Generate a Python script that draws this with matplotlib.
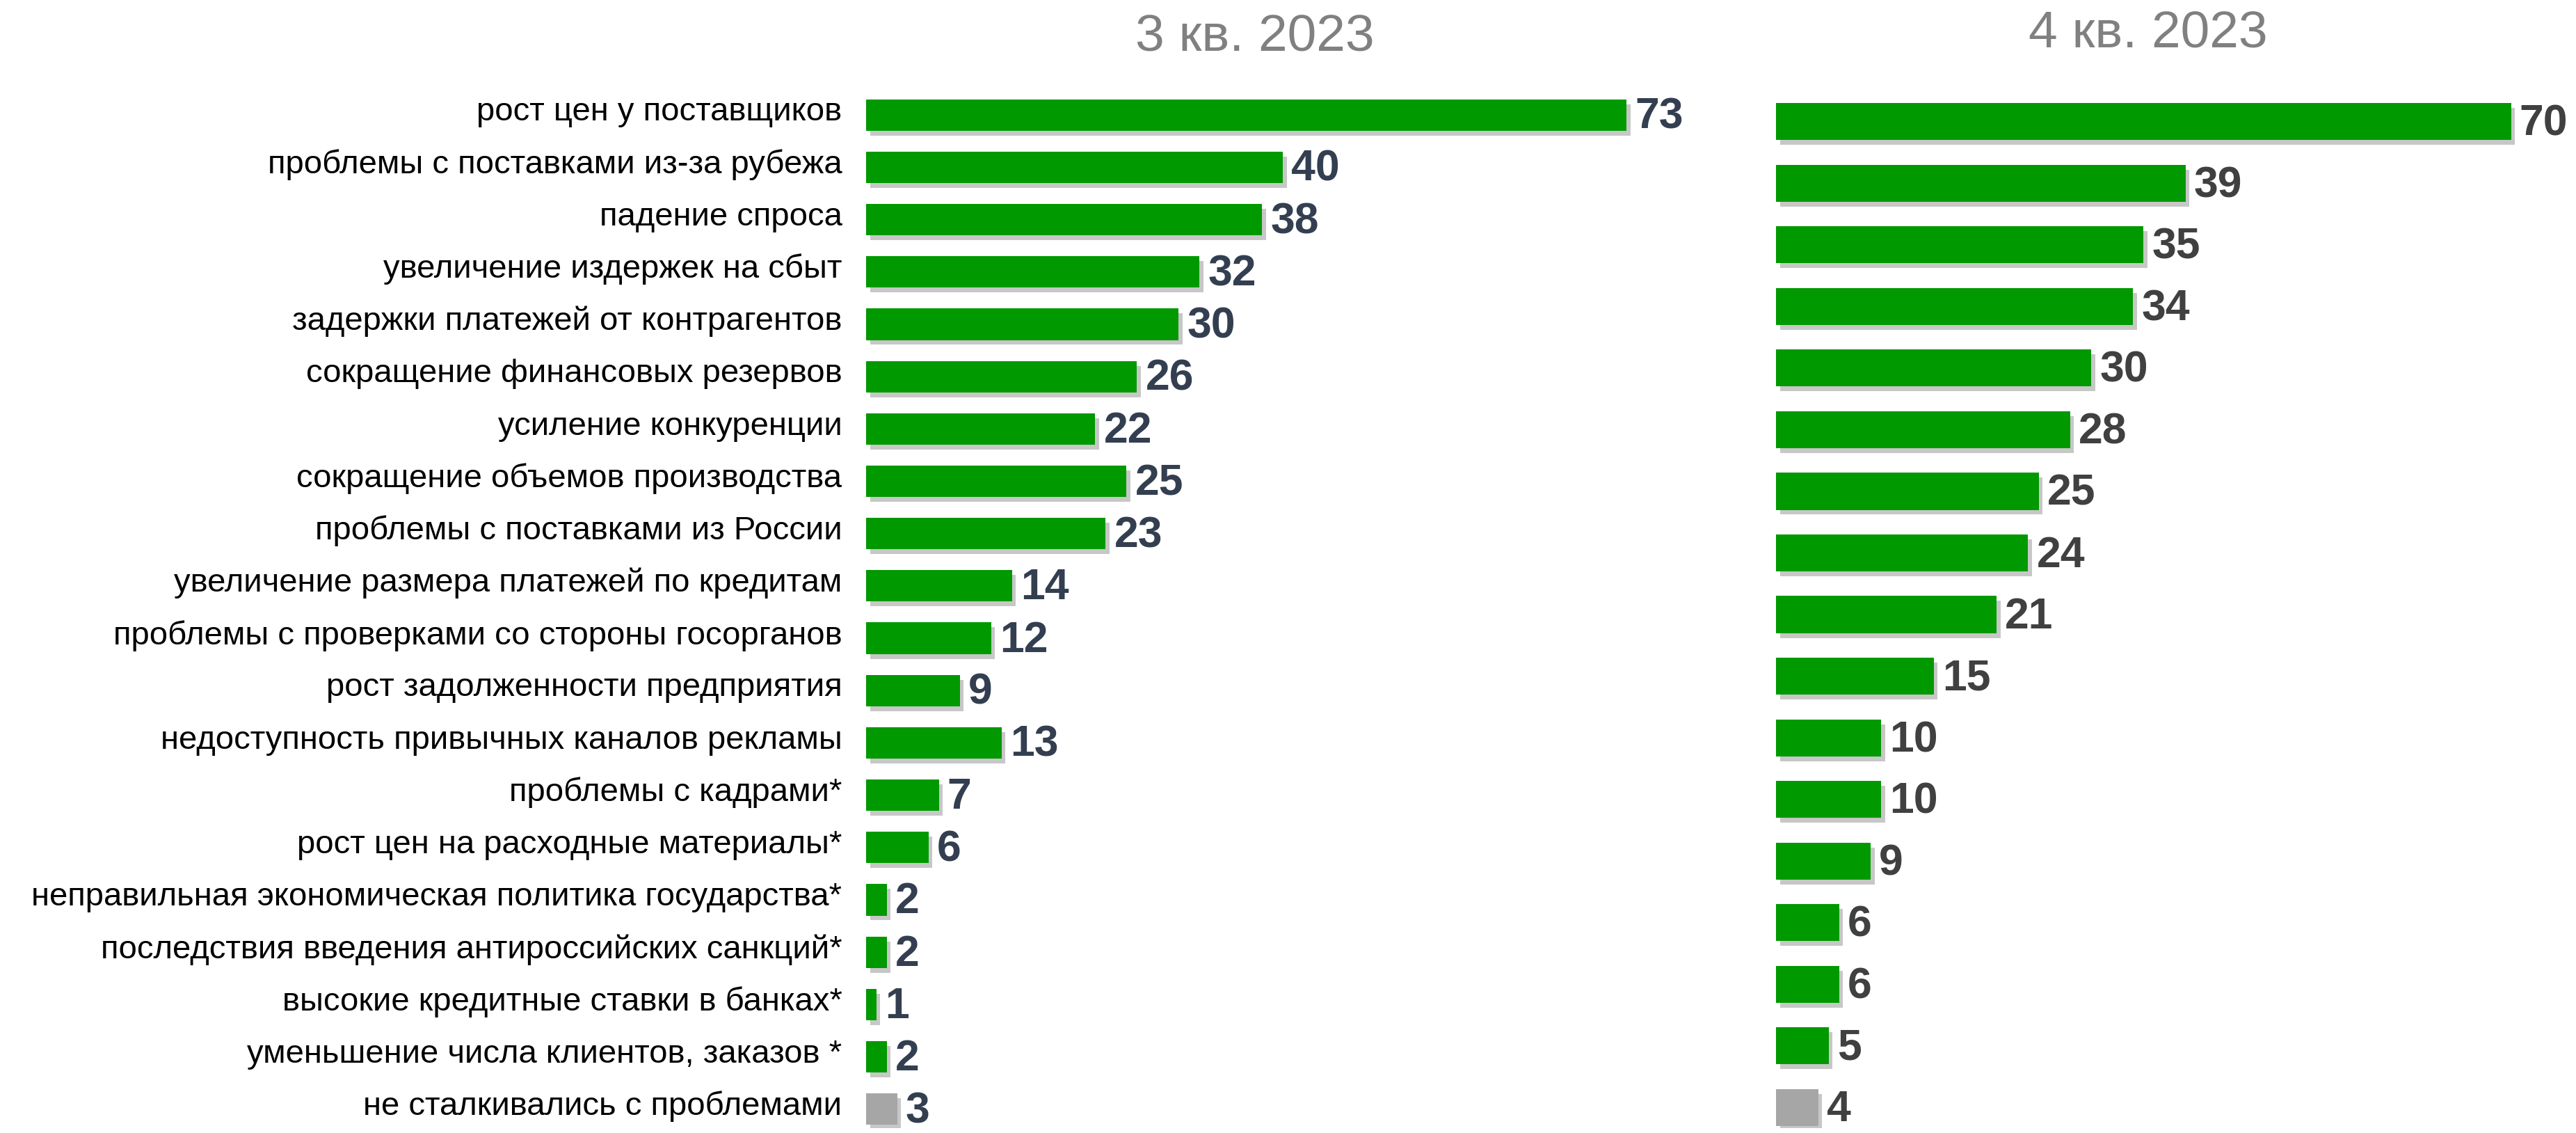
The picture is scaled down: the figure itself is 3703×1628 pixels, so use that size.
import matplotlib
matplotlib.use('Agg')
import matplotlib.pyplot as plt
import matplotlib.patheffects as pe
from matplotlib import font_manager

# categories and values
labels_q3 = ['рост цен у поставщиков', 'проблемы с поставками из-за рубежа', 'падение спроса',
             'увеличение издержек на сбыт', 'задержки платежей от контрагентов',
             'сокращение финансовых резервов', 'усиление конкуренции',
             'сокращение объемов производства', 'проблемы с поставками из России',
             'увеличение размера платежей по кредитам', 'проблемы с проверками со стороны госорганов',
             'рост задолженности предприятия', 'недоступность привычных каналов рекламы',
             'проблемы с кадрами*', 'рост цен на расходные материалы*',
             'неправильная экономическая политика государства*',
             'последствия введения антироссийских санкций*', 'высокие кредитные ставки в банках*',
             'уменьшение числа клиентов, заказов *', 'не сталкивались с проблемами']
values_q3 = [73, 40, 38, 32, 30, 26, 22, 25, 23, 14, 12, 9, 13, 7, 6, 2, 2, 1, 2, 3]
values_q4 = [70, 39, 35, 34, 30, 28, 25, 24, 21, 15, 10, 10, 9, 6, 6, 5, 4]
titles = ['3 кв. 2023', '4 кв. 2023']

names = {f.name for f in font_manager.fontManager.ttflist}
font = 'Liberation Sans Narrow' if 'Liberation Sans Narrow' in names else 'Liberation Sans'
plt.rcParams['font.family'] = [font, 'DejaVu Sans']

green = '#009900'
grey = '#A6A6A6'
shadow = [pe.SimplePatchShadow(offset=(4, -5), shadow_rgbFace='#999999', alpha=0.55), pe.Normal()]

fig = plt.figure(figsize=(37.03, 16.28), dpi=100)


def draw(ax, values, ymax, ymin, xmax, lab_color):
    n = len(values)
    cols = [green] * (n - 1) + [grey]
    pos = list(range(n))
    bars = ax.barh(pos, values, height=0.6, color=cols)
    for b in bars:
        b.set_path_effects(shadow)
    for p, v in zip(pos, values):
        ax.text(v + 0.8, p + 0.04, str(v), va='center', ha='left', fontsize=45,
                fontweight='bold', color=lab_color)
    ax.set_xlim(0, xmax)
    ax.set_ylim(ymax, ymin)
    ax.axis('off')


ax1 = fig.add_axes([0.3362, 0.004, 0.3236, 0.9234])
draw(ax1, values_q3, 19.37, -0.626, 80, '#333F50')
for i, lab in enumerate(labels_q3):
    ax1.text(-2.3, i - 0.05, lab, ha='right', va='center', fontsize=34, color='black')

ax2 = fig.add_axes([0.6895, 0.004, 0.3057, 0.9234])
draw(ax2, values_q4, 16.34, -0.638, 75, '#404040')

fig.text(0.487, 0.967, titles[0], ha='center', va='center', fontsize=54, color='#808080')
fig.text(0.834, 0.970, titles[1], ha='center', va='center', fontsize=54, color='#808080')

fig.savefig('out.png', dpi=100, facecolor='white')
